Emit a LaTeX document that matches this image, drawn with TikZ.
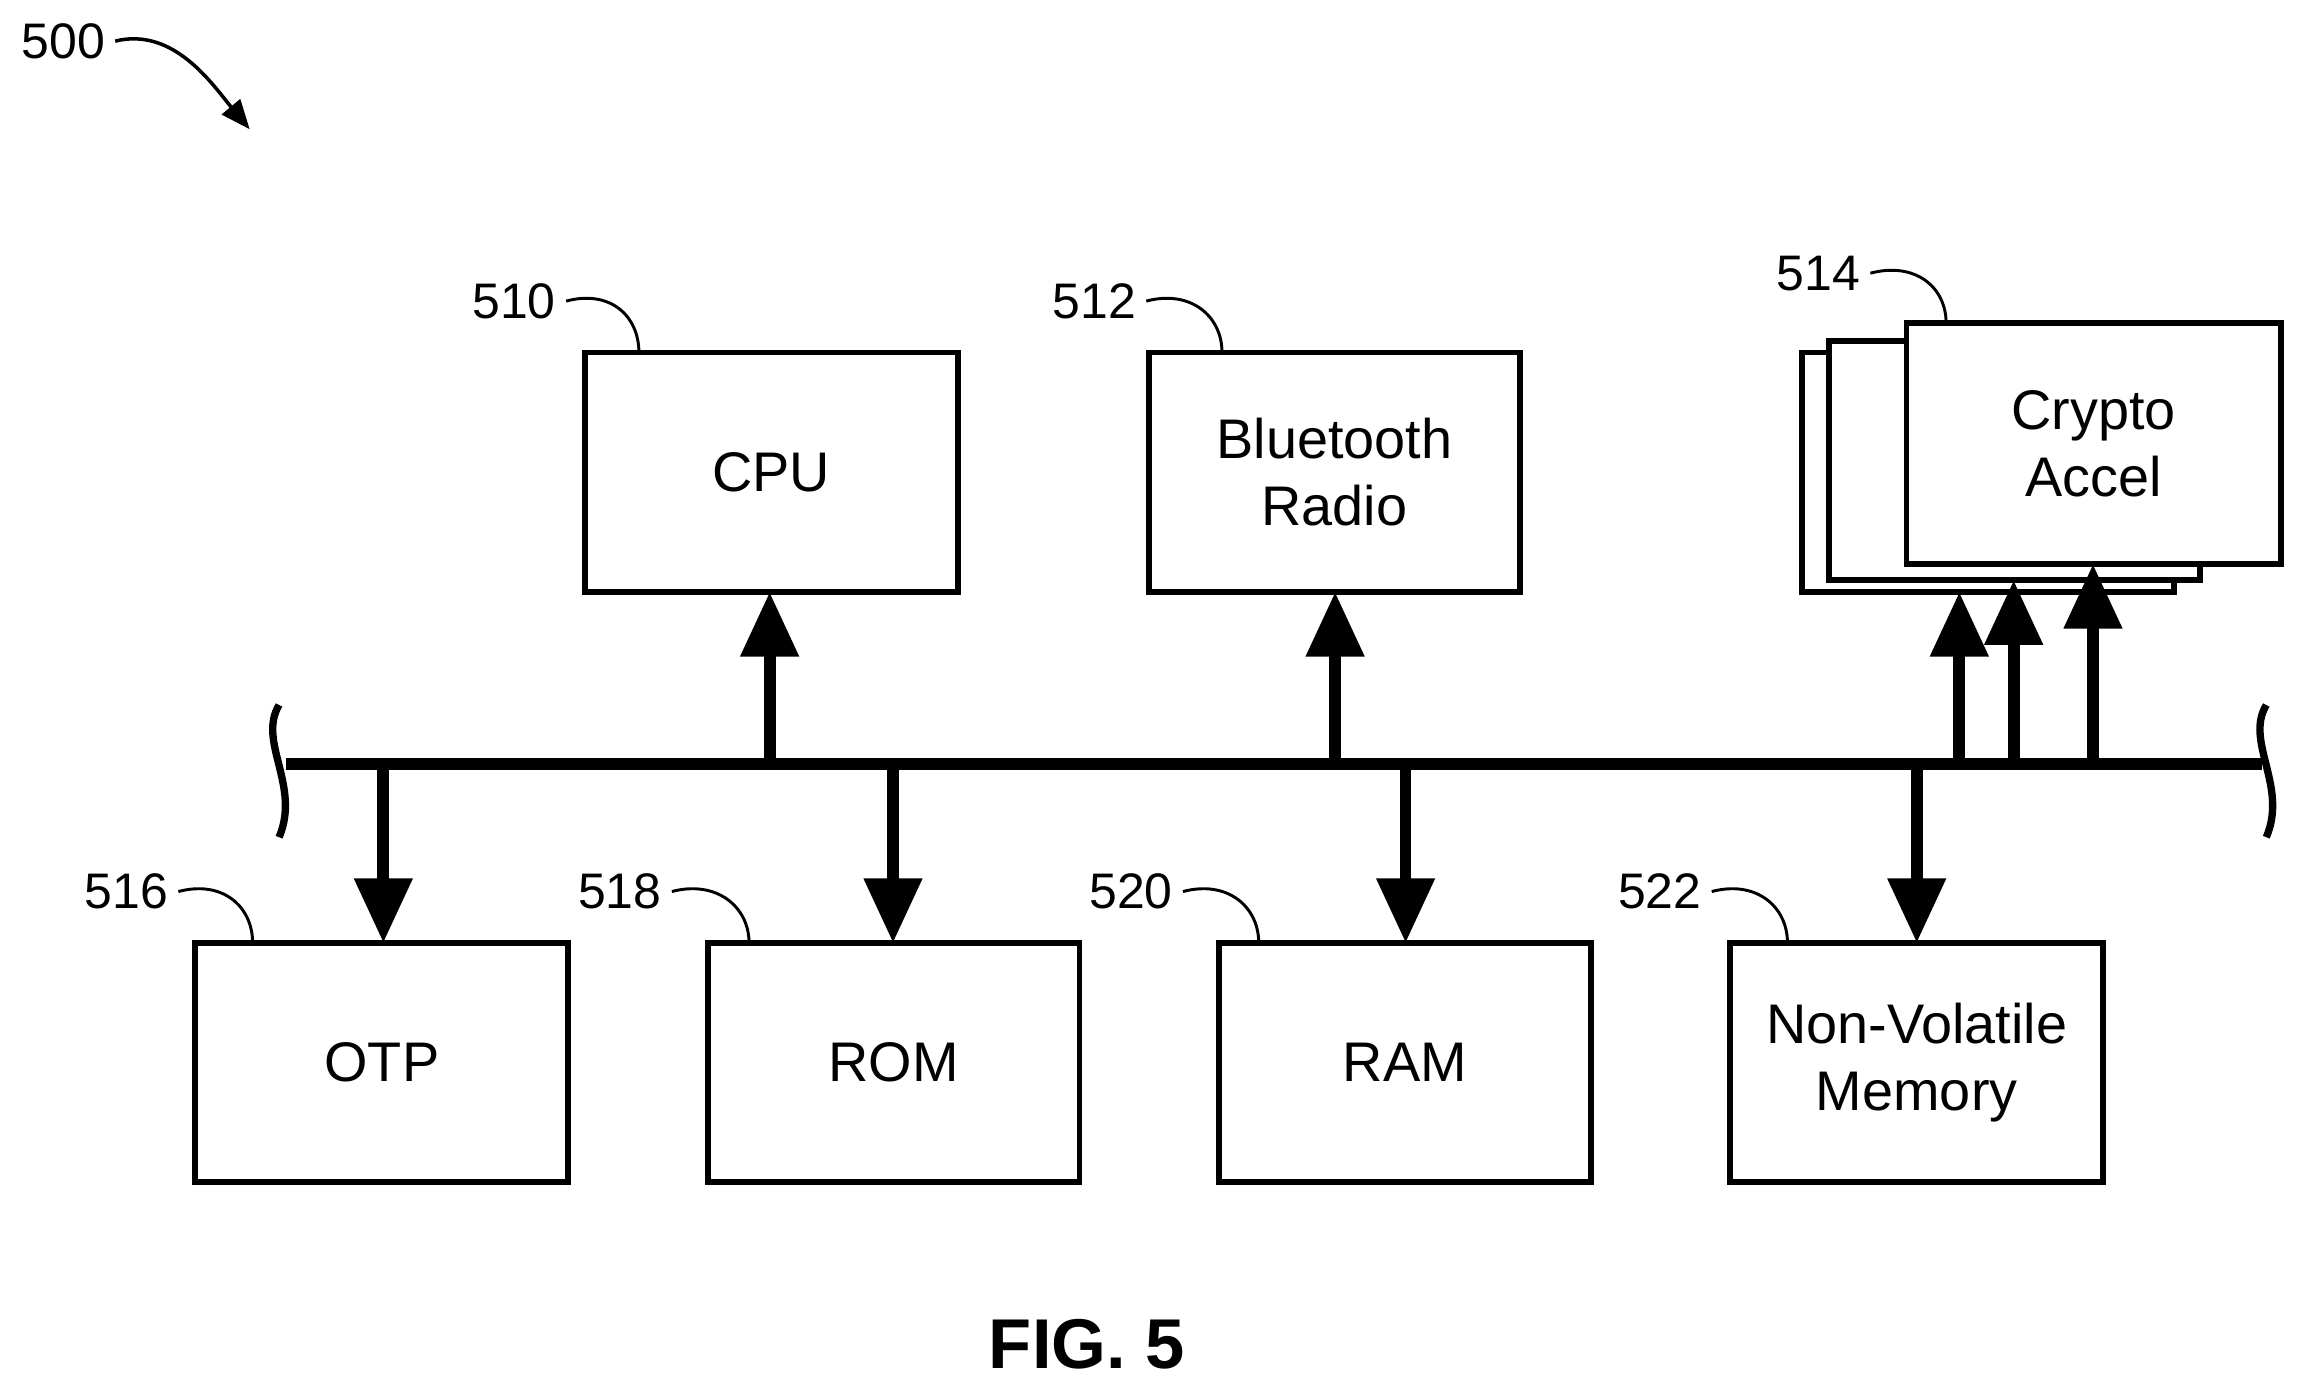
\documentclass[tikz,border=0pt]{standalone}
\usepackage{fontspec}
\setmainfont{Liberation Sans}
\usetikzlibrary{arrows.meta}
\begin{document}
\begin{tikzpicture}[x=0.5pt,y=-0.5pt,
  box/.style={draw,line width=2pt,fill=white,align=center,font=\fontsize{19}{23}\selectfont},
  lbl/.style={font=\fontsize{17}{20}\selectfont},
  lead/.style={line width=1pt},
  bus/.style={line width=4pt},
  bar/.style={line width=4pt,-{Triangle[length=22pt,width=19pt]}}]
\useasboundingbox (0,0) rectangle (1568,948);
% boxes
\node[box,minimum width=127pt,minimum height=81.5pt] (cpu) at (525,321.5) {CPU};
\node[box,minimum width=126.5pt,minimum height=81.5pt] (bt) at (908.5,321.5) {Bluetooth\\Radio};
\node[box,minimum width=126.5pt,minimum height=81.5pt] (c3) at (1353.5,321.5) {};
\node[box,minimum width=126.5pt,minimum height=81.5pt] (c2) at (1371.5,313.5) {};
\node[box,minimum width=127.5pt,minimum height=82pt] (c1) at (1425.5,302) {Crypto\\Accel};
\node[box,minimum width=127pt,minimum height=81.5pt] (otp) at (260,723.5) {OTP};
\node[box,minimum width=126.5pt,minimum height=81.5pt] (rom) at (608.5,723.5) {ROM};
\node[box,minimum width=126.5pt,minimum height=81.5pt] (ram) at (956.5,723.5) {RAM};
\node[box,minimum width=127pt,minimum height=81.5pt] (nvm) at (1305,723.5) {Non-Volatile\\Memory};
% bus
\coordinate (bl) at (195,520); \coordinate (br) at (1540,520);
\draw[bus] (bl) -- (br);
\draw[line width=2.5pt] (190,480) .. controls (175,505) and (205,535) .. (190,570);
\draw[line width=2.5pt] (1543,480) .. controls (1528,505) and (1558,535) .. (1543,570);
% taps
\foreach \n/\x in {a/261,b/608,c/957,d/1305,e/524,f/909,g/1334,h/1371,i/1425}
  \coordinate (t\n) at (\x,520);
\coordinate (ue) at (524,403); \coordinate (uf) at (909,403);
\coordinate (ug) at (1334,403); \coordinate (uh) at (1371,395); \coordinate (ui) at (1425,384);
\coordinate (da) at (261,642); \coordinate (db) at (608,642); \coordinate (dc) at (957,642); \coordinate (dd) at (1305,642);
\foreach \n in {a,b,c,d} \draw[bar] (t\n) -- (d\n);
\foreach \n in {e,f,g,h,i} \draw[bar] (t\n) -- (u\n);
% labels
\node[lbl] (l510) at (350,205) {510};
\node[lbl] (l512) at (745,205) {512};
\node[lbl] (l514) at (1238,186) {514};
\node[lbl] (l516) at (86,607) {516};
\node[lbl] (l518) at (422,607) {518};
\node[lbl] (l520) at (770,607) {520};
\node[lbl] (l522) at (1130,607) {522};
\coordinate (p510) at (435,240); \coordinate (p512) at (832,240); \coordinate (p514) at (1325,220);
\coordinate (p516) at (172,642); \coordinate (p518) at (510,642); \coordinate (p520) at (857,642); \coordinate (p522) at (1217,642);
\foreach \n in {510,512,514,516,518,520,522}
  \draw[lead] (l\n.east) .. controls +(30,-8) and +(0,-25) .. (p\n);
\node[font=\fontsize{17}{20}\selectfont] (l500) at (43,28) {500};
\coordinate (p500) at (170,88);
\draw[line width=1.2pt,-{Triangle[length=10pt,width=8pt]}] (l500.east) .. controls +(40,-10) and +(-25,-30) .. (p500);
\node[font=\bfseries\fontsize{24}{28}\selectfont] (fig) at (740,915) {FIG. 5};
\end{tikzpicture}
\end{document}
